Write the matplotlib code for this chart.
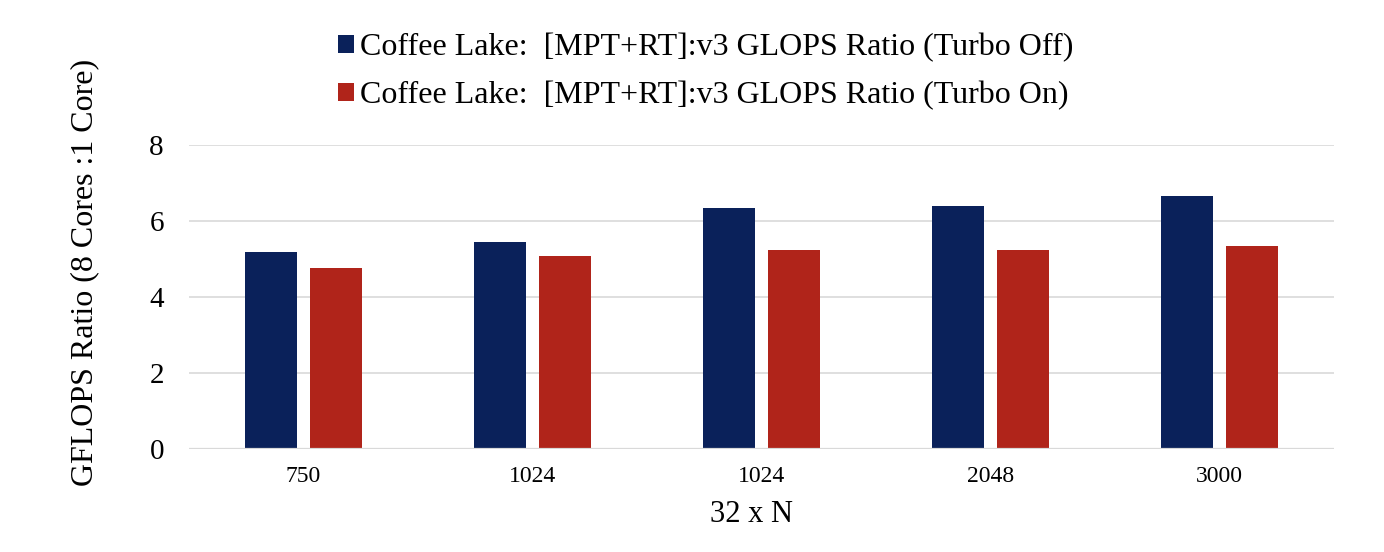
import numpy as np
import matplotlib.pyplot as plt

plt.rcParams['font.family'] = ['Liberation Serif', 'DejaVu Serif']

categories = ['750', '1024', '1024', '2048', '3000']
turbo_off = [5.18, 5.45, 6.34, 6.39, 6.66]
turbo_on = [4.76, 5.08, 5.24, 5.24, 5.34]
labels = ['Coffee Lake:  [MPT+RT]:v3 GLOPS Ratio (Turbo Off)',
          'Coffee Lake:  [MPT+RT]:v3 GLOPS Ratio (Turbo On)']
colors = ['#0A215A', '#B0241A']

fig = plt.figure(figsize=(13.84, 5.52), dpi=100)
ax = fig.add_axes([189/1384, 1 - 449/552, 1145/1384, 304/552])

x = np.arange(len(categories))
w = 0.223
off = 0.142
ax.bar(x - off, turbo_off, w, color=colors[0], label=labels[0], zorder=3)
ax.bar(x + off, turbo_on, w, color=colors[1], label=labels[1], zorder=3)

ax.set_xlim(-0.5, len(categories) - 0.5)
ax.set_ylim(0, 8)
ax.set_yticks([0, 2, 4, 6, 8])
ax.set_xticks(x)
ax.set_xticklabels(categories)
ax.grid(axis='y', color='#D9D9D9', linewidth=1.2, zorder=0)
ax.axhline(0, color='#D9D9D9', linewidth=1.6, zorder=4)
for s in ax.spines.values():
    s.set_visible(False)
ax.tick_params(axis='both', length=0)
ax.tick_params(axis='y', labelsize=21, pad=18)
ax.tick_params(axis='x', labelsize=17, pad=12)

fig.text(751/1384, 1 - 514/552, '32 x N', ha='center', va='center', fontsize=22)
fig.text(85/1384, 1 - 272/552, 'GFLOPS Ratio (8 Cores :1 Core)', rotation=90,
         ha='center', va='center', fontsize=23)

fig.legend(loc='upper left', bbox_to_anchor=(338/1384, 1 - 33/552), frameon=False,
           fontsize=23, handlelength=0.5, handleheight=0.5, handletextpad=0.2,
           labelspacing=0.58, borderpad=0, borderaxespad=0)

fig.savefig('out.png', dpi=100)
